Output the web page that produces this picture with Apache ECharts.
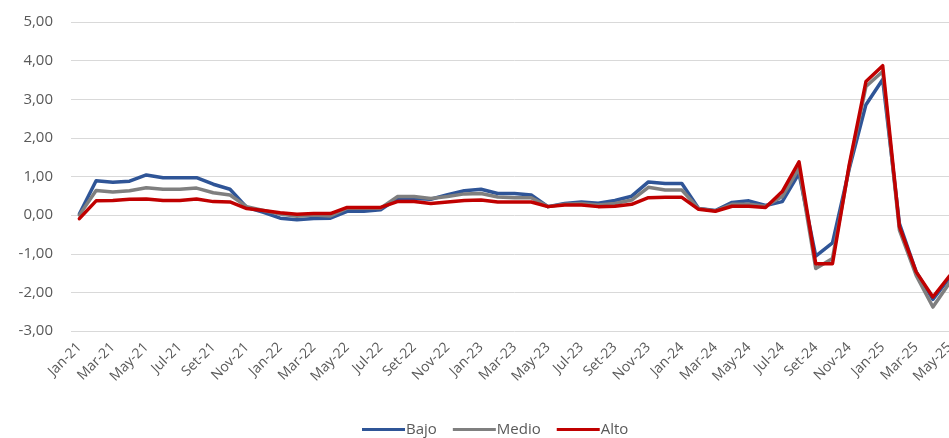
<!DOCTYPE html>
<html>
<head>
<meta charset="utf-8">
<script src="https://cdn.jsdelivr.net/npm/echarts@6/dist/echarts.min.js"></script>
<style>
  html, body { margin: 0; padding: 0; background: #ffffff; overflow: hidden; }
  /* canvas runs a little past the window so the last month sits at the border */
  #chart { width: 958px; height: 438px; }
</style>
</head>
<body>
<div id="chart"></div>
<script>
// Monthly categories, Jan-21 .. May-25
const months = ['Jan', 'Feb', 'Mar', 'Apr', 'May', 'Jun', 'Jul', 'Aug', 'Set', 'Oct', 'Nov', 'Dec'];
const categories = [];
for (let y = 21; y <= 25; y++) {
  for (let m = 0; m < 12; m++) {
    if (y === 25 && m > 4) break;
    categories.push(months[m] + '-' + y);
  }
}

const bajo = [
  0.03, 0.89, 0.85, 0.88, 1.04, 0.97, 0.97, 0.97, 0.80, 0.67, 0.20, 0.07,
  -0.08, -0.12, -0.09, -0.08, 0.10, 0.10, 0.14, 0.43, 0.43, 0.41, 0.53, 0.63,
  0.67, 0.56, 0.56, 0.52, 0.22, 0.30, 0.34, 0.31, 0.38, 0.49, 0.86, 0.82,
  0.82, 0.17, 0.12, 0.33, 0.37, 0.25, 0.35, 1.08, -1.06, -0.72, 1.20, 2.86,
  3.51, -0.22, -1.47, -2.18, -1.62
];
const medio = [
  0.00, 0.64, 0.60, 0.63, 0.71, 0.67, 0.67, 0.70, 0.58, 0.52, 0.22, 0.12,
  0.03, -0.03, 0.00, -0.02, 0.18, 0.18, 0.18, 0.48, 0.48, 0.43, 0.48, 0.55,
  0.56, 0.47, 0.45, 0.45, 0.22, 0.28, 0.30, 0.26, 0.30, 0.39, 0.72, 0.65,
  0.65, 0.17, 0.11, 0.28, 0.28, 0.23, 0.48, 1.21, -1.38, -1.12, 1.25, 3.33,
  3.72, -0.39, -1.56, -2.38, -1.75
];
const alto = [
  -0.09, 0.37, 0.38, 0.41, 0.42, 0.38, 0.38, 0.42, 0.35, 0.34, 0.17, 0.12,
  0.06, 0.02, 0.04, 0.04, 0.20, 0.20, 0.20, 0.35, 0.35, 0.30, 0.34, 0.38,
  0.39, 0.34, 0.34, 0.34, 0.22, 0.26, 0.26, 0.22, 0.23, 0.28, 0.45, 0.46,
  0.46, 0.15, 0.10, 0.23, 0.23, 0.20, 0.61, 1.38, -1.26, -1.26, 1.30, 3.46,
  3.87, -0.30, -1.47, -2.12, -1.57
];

const seriesNames = ['Bajo', 'Medio', 'Alto'];
const seriesColors = ['#2F5597', '#7F7F7F', '#C00000'];
const seriesData = [bajo, medio, alto];

const chart = echarts.init(document.getElementById('chart'), null, { renderer: 'canvas' });

const labelFont = '"Open Sans", "Noto Sans", sans-serif';

chart.setOption({
  animation: false,
  backgroundColor: '#ffffff',
  grid: { left: 71, right: 0, top: 22, bottom: 107, containLabel: false },
  legend: {
    top: 417,
    left: 357,
    itemWidth: 43,
    itemHeight: 3,
    itemGap: 16,
    icon: 'rect',
    textStyle: { color: '#595959', fontSize: 15, fontFamily: labelFont, padding: [0, 0, 0, -4] },
    data: seriesNames
  },
  xAxis: {
    type: 'category',
    data: categories,
    boundaryGap: true,
    axisLine: { show: false },
    axisTick: { show: false },
    axisLabel: {
      interval: 1,
      rotate: 45,
      color: '#595959',
      fontSize: 14,
      fontFamily: labelFont,
      margin: 14
    },
    splitLine: { show: false }
  },
  yAxis: {
    type: 'value',
    min: -3,
    max: 5,
    interval: 1,
    axisLine: { show: false },
    axisTick: { show: false },
    axisLabel: {
      color: '#595959',
      fontSize: 15,
      fontFamily: labelFont,
      margin: 18,
      formatter: v => v.toFixed(2).replace('.', ',')
    },
    splitLine: { lineStyle: { color: '#D9D9D9', width: 1 } }
  },
  series: seriesNames.map((name, i) => ({
    name: name,
    type: 'line',
    data: seriesData[i],
    showSymbol: false,
    symbol: 'none',
    color: seriesColors[i],
    lineStyle: { width: 3.5, color: seriesColors[i], join: 'round', cap: 'round' },
    z: 2 + i
  }))
});
</script>
</body>
</html>
